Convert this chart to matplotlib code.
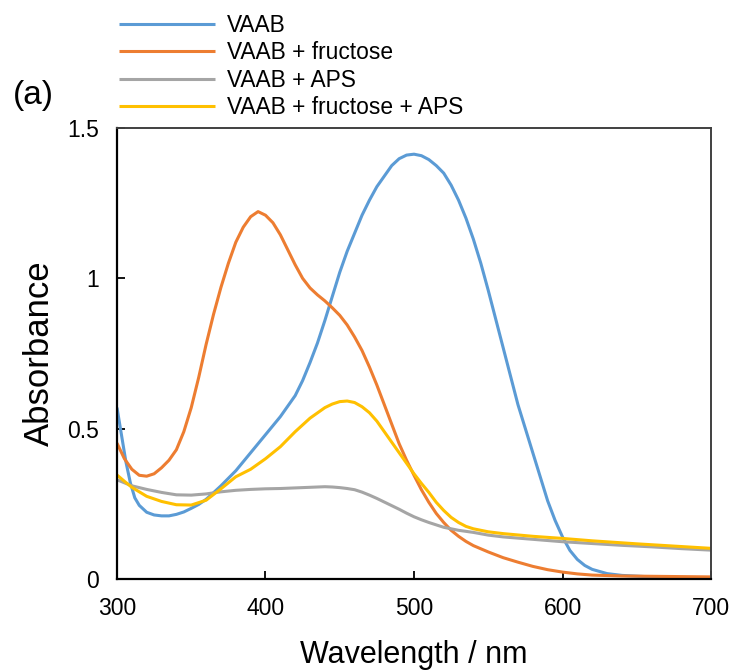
import matplotlib
matplotlib.use("Agg")
import matplotlib.pyplot as plt

plt.rcParams['font.family'] = ['Liberation Sans', 'DejaVu Sans']

# absorption spectra (wavelength in nm, absorbance)
wl_vaab = [300, 303, 306, 309, 312, 315, 320, 325, 330, 335, 340, 345, 350, 355, 360,
           365, 370, 375, 380, 385, 390, 395, 400, 405, 410, 415, 420, 425, 430, 435,
           440, 445, 450, 455, 460, 465, 470, 475, 480, 485, 490, 495, 500, 505, 510,
           515, 520, 525, 530, 535, 540, 545, 550, 555, 560, 565, 570, 575, 580, 585,
           590, 595, 600, 605, 610, 615, 620, 630, 640, 660, 680, 700]
abs_vaab = [0.57, 0.48, 0.39, 0.32, 0.27, 0.245, 0.222, 0.213, 0.21, 0.21, 0.215, 0.223, 0.235, 0.248, 0.265,
            0.287, 0.31, 0.335, 0.36, 0.39, 0.42, 0.45, 0.48, 0.51, 0.54, 0.575, 0.61, 0.66, 0.72, 0.785,
            0.86, 0.94, 1.02, 1.09, 1.15, 1.21, 1.26, 1.305, 1.34, 1.375, 1.398, 1.41, 1.413, 1.408, 1.395,
            1.375, 1.35, 1.31, 1.26, 1.20, 1.13, 1.05, 0.96, 0.865, 0.77, 0.675, 0.58, 0.50, 0.42, 0.34,
            0.26, 0.195, 0.14, 0.095, 0.065, 0.045, 0.032, 0.018, 0.012, 0.007, 0.004, 0.003]

wl_fru = [300, 305, 310, 315, 320, 325, 330, 335, 340, 345, 350, 355, 360, 365, 370,
          375, 380, 385, 390, 395, 400, 405, 410, 415, 420, 425, 430, 435, 440, 445,
          450, 455, 460, 465, 470, 475, 480, 485, 490, 495, 500, 505, 510, 515, 520,
          525, 530, 535, 540, 550, 560, 570, 580, 590, 600, 610, 620, 640, 660, 700]
abs_fru = [0.452, 0.40, 0.365, 0.345, 0.342, 0.35, 0.37, 0.395, 0.43, 0.49, 0.57, 0.67, 0.78, 0.88, 0.97,
           1.05, 1.12, 1.17, 1.205, 1.222, 1.21, 1.185, 1.145, 1.095, 1.045, 1.0, 0.968, 0.945, 0.925, 0.902,
           0.877, 0.845, 0.805, 0.76, 0.705, 0.645, 0.58, 0.515, 0.45, 0.395, 0.345, 0.297, 0.255, 0.218, 0.188,
           0.162, 0.142, 0.125, 0.111, 0.09, 0.071, 0.056, 0.042, 0.031, 0.023, 0.017, 0.013, 0.01, 0.009, 0.007]

wl_aps = [300, 310, 320, 330, 340, 350, 360, 370, 380, 390, 400, 410, 420, 430, 440,
          445, 450, 455, 460, 465, 470, 475, 480, 485, 490, 495, 500, 505, 510, 515,
          520, 530, 540, 550, 560, 580, 600, 620, 640, 660, 680, 700]
abs_aps = [0.33, 0.31, 0.298, 0.288, 0.28, 0.279, 0.283, 0.29, 0.295, 0.298, 0.30, 0.301, 0.303, 0.305, 0.307,
           0.306, 0.304, 0.301, 0.297, 0.289, 0.279, 0.268, 0.256, 0.244, 0.232, 0.219, 0.207, 0.197, 0.188, 0.18,
           0.172, 0.162, 0.155, 0.146, 0.14, 0.132, 0.124, 0.118, 0.112, 0.107, 0.101, 0.096]

wl_both = [300, 305, 310, 315, 320, 330, 340, 350, 360, 370, 380, 390, 400, 410, 420,
           430, 440, 445, 450, 455, 460, 465, 470, 475, 480, 485, 490, 495, 500, 505,
           510, 515, 520, 525, 530, 535, 540, 550, 560, 580, 600, 620, 650, 680, 700]
abs_both = [0.346, 0.325, 0.305, 0.29, 0.275, 0.258, 0.247, 0.246, 0.262, 0.30, 0.34, 0.365, 0.40, 0.44, 0.49,
            0.535, 0.57, 0.582, 0.59, 0.592, 0.587, 0.573, 0.553, 0.525, 0.49, 0.455, 0.42, 0.385, 0.35, 0.318,
            0.288, 0.255, 0.228, 0.205, 0.188, 0.175, 0.167, 0.157, 0.151, 0.142, 0.135, 0.127, 0.117, 0.108, 0.102]

labels = ["VAAB", "VAAB + fructose", "VAAB + APS", "VAAB + fructose + APS"]
colors = ["#5B9BD5", "#ED7D31", "#A5A5A5", "#FFC000"]

fig = plt.figure(figsize=(7.33, 6.71), dpi=100)
ax = fig.add_axes([0.1596, 0.1371, 0.8104, 0.6721])

series = [(wl_vaab, abs_vaab), (wl_fru, abs_fru), (wl_aps, abs_aps), (wl_both, abs_both)]
for (x, y), lab, c in zip(series, labels, colors):
    ax.plot(x, y, color=c, lw=2.2, label=lab, solid_capstyle='butt')

ax.set_xlim(300, 700)
ax.set_ylim(0, 1.5)
ax.set_xticks([300, 400, 500, 600, 700])
ax.set_yticks([0, 0.5, 1, 1.5])
ax.set_yticklabels(["0", "0.5", "1", "1.5"])
ax.tick_params(direction='in', length=6, width=1.3, labelsize=16.5, pad=13, color='black')

for s in ['left', 'bottom']:
    ax.spines[s].set_linewidth(1.6)
    ax.spines[s].set_color('black')
for s in ['top', 'right']:
    ax.spines[s].set_linewidth(1.4)
    ax.spines[s].set_color('#404040')

ax.set_xlabel("Wavelength / nm", fontsize=22, labelpad=14)
ax.set_ylabel("Absorbance", fontsize=25, labelpad=8)

leg = ax.legend(loc='lower left', bbox_to_anchor=(-0.012, 0.999), frameon=False,
                fontsize=16.4, handlelength=4.2, handletextpad=0.55,
                labelspacing=0.2, borderaxespad=0)

fig.text(0.045, 0.858, "(a)", fontsize=24, ha='center', va='center')

fig.savefig("out.png", dpi=100)
